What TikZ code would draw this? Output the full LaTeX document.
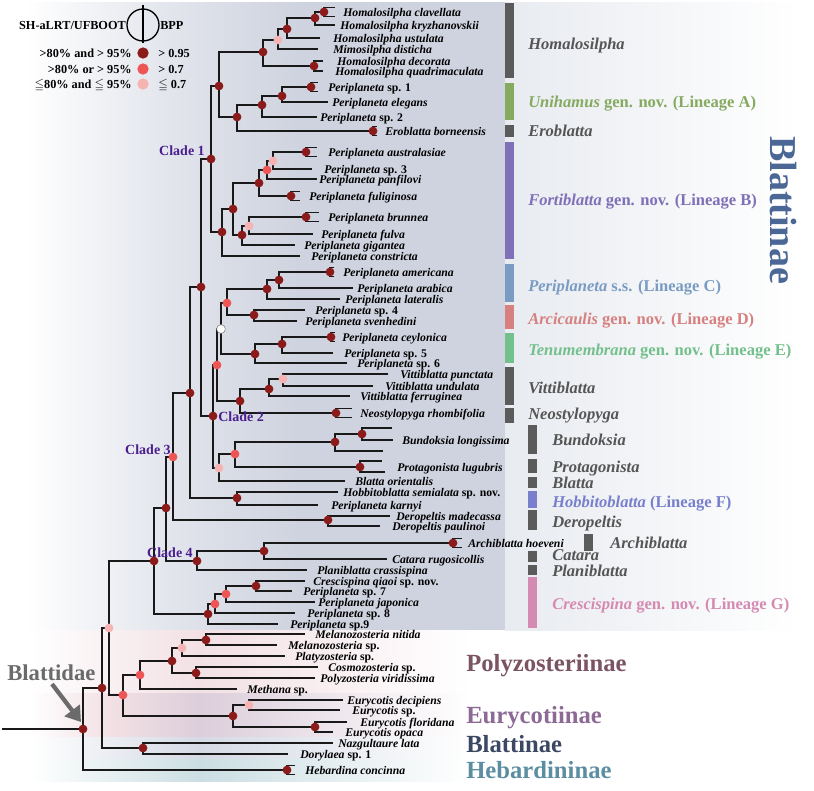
\documentclass[tikz,border=0pt]{standalone}
\usepackage{fontspec}
\usepackage{amssymb}
\setmainfont{Liberation Serif}
\usetikzlibrary{arrows.meta}
\pgfdeclarelayer{bg}
\pgfdeclarelayer{fg}
\pgfsetlayers{bg,main,fg}
\definecolor{cdk}{HTML}{8B1A1A}
\definecolor{crd}{HTML}{EE5555}
\definecolor{cpk}{HTML}{F6B3B3}
\definecolor{cbar}{HTML}{5B5B5B}
\definecolor{cgrp}{HTML}{555555}
\definecolor{cA}{HTML}{85AA60}
\definecolor{cB}{HTML}{8070B8}
\definecolor{cC}{HTML}{7A9CC3}
\definecolor{cD}{HTML}{D68080}
\definecolor{cE}{HTML}{74C08C}
\definecolor{cF}{HTML}{7880CC}
\definecolor{cG}{HTML}{D58AB2}
\definecolor{cclade}{HTML}{4B1F8F}
\definecolor{cbig}{HTML}{4A6796}
\definecolor{cpoly}{HTML}{7B5463}
\definecolor{ceury}{HTML}{8D6A96}
\definecolor{cblat}{HTML}{3B4763}
\definecolor{cheb}{HTML}{5B8EA0}
\definecolor{cbld}{HTML}{6B6B6B}
\definecolor{bgmain}{HTML}{CFD3DF}
\definecolor{bgmid}{HTML}{E2E5EC}
\definecolor{bgright}{HTML}{E8EBF0}
\definecolor{bgpink}{HTML}{F2E0E4}
\definecolor{bgeury}{HTML}{DCCEDA}
\definecolor{bgblat}{HTML}{D4D9E4}
\definecolor{bgheb}{HTML}{CBDEE3}
\tikzset{
  br/.style={line width=1.4pt, draw=black!90},
  dotbase/.style={circle, inner sep=0pt, minimum size=6.6pt},
  dotdk/.style={dotbase, fill=cdk},
  dotrd/.style={dotbase, fill=crd},
  dotpk/.style={dotbase, fill=cpk},
  dotwt/.style={dotbase, fill=white, draw=gray, line width=0.4pt},
  lab/.style={anchor=base west, inner sep=0pt, font=\fontsize{8.8}{10}\selectfont\bfseries\itshape},
  grp/.style={anchor=base west, inner sep=0pt, font=\fontsize{12.4}{14}\selectfont\bfseries},
  clade/.style={inner sep=0pt, text=cclade, font=\fontsize{10.5}{12}\selectfont\bfseries},
  leg/.style={inner sep=0pt, font=\fontsize{9.2}{11}\selectfont\bfseries},
  legdot/.style={circle, inner sep=0pt, minimum size=8.5pt},
  sub/.style={anchor=base west, inner sep=0pt, font=\fontsize{18.5}{20}\selectfont\bfseries},
}
\newcommand\inode[5][dotdk]{%
  \coordinate (#2) at (#4,#5);
  \draw[br] (#3) |- (#2);
  \begin{pgfonlayer}{fg}\node[#1] (#2d) at (#2) {};\end{pgfonlayer}}
\newcommand\tleaf[6]{%
  \coordinate (#1) at (#3,#4);
  \draw[br] (#2) |- (#1);
  \node[lab] (#1l) at (#5,#4+4) {#6};}
\newcommand\ntip[4]{%
  \coordinate (#1) at (#3,#4);
  \draw[br] (#2) |- (#1);}
\newcommand\bleaf[8][dotdk]{%
  \coordinate (#2) at (#4,#5);
  \draw[br] (#3) |- (#2);
  \coordinate (#2a) at (#6,#5-4.5);
  \coordinate (#2b) at (#6,#5+4.5);
  \draw[br] (#2) |- (#2a);
  \draw[br] (#2) |- (#2b);
  \begin{pgfonlayer}{fg}\node[#1] (#2d) at (#2) {};\end{pgfonlayer}
  \node[lab] (#2l) at (#7,#5+4) {#8};}
\begin{document}
\begin{tikzpicture}[x=0.75pt,y=-0.75pt]
\useasboundingbox (0,0) rectangle (814,790);
\begin{pgfonlayer}{bg}
\fill[white] (0,0) rectangle (814,790);
\shade[left color=white, right color=bgmid] (25,2) rectangle (170,630);
\shade[left color=bgmid, right color=bgmain] (169.5,2) rectangle (300,630);
\fill[bgmain] (299.5,2) rectangle (505,630);
\shade[left color=bgright, right color=white] (505,2) rectangle (800,630);
\shade[left color=white, right color=bgpink] (30,630) rectangle (200,693);
\shade[left color=bgpink, right color=white] (199.5,630) rectangle (470,693);
\shade[left color=white, right color=bgpink] (30,693) rectangle (110,737);
\shade[left color=bgpink, right color=bgeury] (109.5,693) rectangle (200,737);
\shade[left color=bgeury, right color=white] (199.5,693) rectangle (470,737);
\shade[left color=white, right color=bgblat] (30,737) rectangle (200,759);
\shade[left color=bgblat, right color=white] (199.5,737) rectangle (470,759);
\shade[left color=white, right color=bgheb] (30,759) rectangle (200,781);
\shade[left color=bgheb, right color=white] (199.5,759) rectangle (470,781);
\end{pgfonlayer}

% ---------- legend ----------
\node[leg, anchor=base east] (lg0) at (126,29) {SH-aLRT/UFBOOT};
\node[circle, draw, line width=1pt, minimum size=24pt, inner sep=0pt] (lgc) at (143,25) {};
\coordinate (lgt) at (143,5);
\coordinate (lgb) at (143,43);
\draw[line width=1pt] (lgt) -- (lgb);
\node[leg, anchor=base west] (lg1) at (160,29) {BPP};
\node[leg, anchor=base east] (lg2) at (132,57) {>80\% and > 95\%};
\node[leg, anchor=base east] (lg3) at (132,73) {>80\% or > 95\%};
\node[leg, anchor=base east] (lg4) at (132,88) {$\leqq$80\% and $\leqq$ 95\%};
\node[legdot, fill=cdk] (ld1) at (143,53) {};
\node[legdot, fill=crd] (ld2) at (143,69) {};
\node[legdot, fill=cpk] (ld3) at (143,84) {};
\node[leg, anchor=base west] (lr1) at (158,57) {> 0.95};
\node[leg, anchor=base west] (lr2) at (158,73) {> 0.7};
\node[leg, anchor=base west] (lr3) at (158,88) {$\leqq$ 0.7};

% ---------- tree ----------
\coordinate (r00) at (2,729);
\inode{r0}{r00}{83}{729}
\inode{B}{r0}{102}{688}
\bleaf{Heb}{r0}{287}{770}{295}{305}{Hebardina concinna}
\inode[dotpk]{A}{B}{109}{628}
\inode{Naz}{B}{143}{748}
\tleaf{Nazl}{Naz}{333}{743}{338}{Nazgultaure lata}
\tleaf{Dory}{Naz}{288}{754}{300}{Dorylaea \upshape sp. 1}
\inode{C}{A}{154}{561}
\inode[dotrd]{P1}{A}{123}{695}
\inode[dotrd]{P2}{P1}{140}{675}
\inode{P3}{P2}{172}{661}
\inode[dotpk]{P4}{P3}{182}{648}
\inode{P5}{P4}{206}{640}
\tleaf{Mnit}{P5}{305}{634}{315}{Melanozosteria nitida}
\tleaf{Msp}{P5}{277}{645}{288}{Melanozosteria \upshape sp.}
\tleaf{Plat}{P4}{285}{656}{295}{Platyzosteria \upshape sp.}
\inode{P6}{P3}{196}{673}
\tleaf{Cosm}{P6}{318}{667}{328}{Cosmozosteria \upshape sp.}
\tleaf{Poly}{P6}{315}{678}{320}{Polyzosteria viridissima}
\tleaf{Meth}{P2}{237}{689}{247}{Methana \upshape sp.}
\inode{P7}{P1}{233}{716}
\inode[dotpk]{P8}{P7}{249}{705}
\tleaf{Edec}{P8}{343}{700}{347}{Eurycotis decipiens}
\tleaf{Esp}{P8}{340}{710}{352}{Eurycotis \upshape sp.}
\inode{P9}{P7}{315}{727}
\tleaf{Eflo}{P9}{347}{722}{360}{Eurycotis floridana}
\tleaf{Eopa}{P9}{333}{732}{345}{Eurycotis opaca}

\inode{Cr}{C}{208}{614}
\inode[dotrd]{Cr1}{Cr}{215}{604}
\tleaf{Psp9}{Cr}{278}{624}{290}{Periplaneta \upshape sp.9}
\inode[dotrd]{Cr2}{Cr1}{226}{594}
\tleaf{Psp8}{Cr1}{295}{613}{307}{Periplaneta \upshape sp. 8}
\inode{Cr3}{Cr2}{256}{586}
\tleaf{Pjap}{Cr2}{315}{602}{318}{Periplaneta japonica}
\tleaf{Cqia}{Cr3}{305}{581}{313}{Crescispina qiaoi \upshape sp. nov.}
\tleaf{Psp7}{Cr3}{292}{591}{303}{Periplaneta \upshape sp. 7}

\inode{D}{C}{166}{508}
\inode[dotrd]{Cl3}{D}{173}{457}
\inode{Cl4}{D}{197}{561}
\inode{Ar}{Cl4}{264}{551}
\bleaf{Arch}{Ar}{453}{543}{462}{468}{Archiblatta hoeveni}
\tleaf{Cata}{Ar}{387}{559}{392}{Catara rugosicollis}
\tleaf{Plan}{Cl4}{307}{570}{317}{Planiblatta crassispina}
\inode{Der}{Cl3}{328}{520}
\tleaf{Dmad}{Der}{390}{516}{396}{Deropeltis madecassa}
\tleaf{Dpau}{Der}{380}{526}{392}{Deropeltis paulinoi}
\inode{E}{Cl3}{190}{393}
\inode{Hob}{E}{237}{498}
\tleaf{Hsem}{Hob}{338}{492}{343}{Hobbitoblatta semialata \upshape sp. nov.}
\tleaf{Pkar}{Hob}{318}{505}{331}{Periplaneta karnyi}
\inode{X}{E}{201}{287}
\inode{Cl2}{X}{213}{416}
\inode[dotpk]{Q2}{Cl2}{219}{468}
\inode[dotrd]{Q3}{Q2}{235}{454}
\tleaf{Bori}{Q2}{345}{481}{355}{Blatta orientalis}
\inode{Bun}{Q3}{335}{442}
\inode{Bun2}{Bun}{362}{434}
\ntip{Bu1}{Bun2}{392}{428}
\tleaf{Blon}{Bun2}{393}{440}{402}{Bundoksia longissima}
\ntip{Bu3}{Bun}{383}{451}
\inode{Pro}{Q3}{360}{467}
\ntip{Pro1}{Pro}{382}{461}
\ntip{Pro2}{Pro}{385}{472}
\node[lab] (Prol) at (397,467+4) {Protagonista lugubris};
\inode[dotrd]{Q1}{Cl2}{217}{365}
\inode[dotwt]{W}{Q1}{221}{329}
\inode{VN}{Q1}{240}{401}
\inode{Vit}{VN}{269}{389}
\inode[dotpk]{Vit2}{Vit}{283}{379}
\tleaf{Vpun}{Vit2}{388}{374}{400}{Vittiblatta punctata}
\tleaf{Vund}{Vit2}{373}{386}{385}{Vittiblatta undulata}
\tleaf{Vfer}{Vit}{350}{396}{360}{Vittiblatta ferruginea}
\bleaf{Neo}{VN}{336}{413}{352}{360}{Neostylopyga rhombifolia}
\inode[dotrd]{R1}{W}{227}{303}
\inode{Te}{W}{255}{354}
\inode{C1}{R1}{267}{289}
\inode{C2}{C1}{279}{280}
\bleaf{Pame}{C2}{330}{272}{334}{343}{Periplaneta americana}
\tleaf{Parab}{C2}{353}{288}{357}{Periplaneta arabica}
\tleaf{Plat2}{C1}{340}{299}{345}{Periplaneta lateralis}
\inode{Ar2}{R1}{254}{315}
\tleaf{Psp4}{Ar2}{305}{310}{315}{Periplaneta \upshape sp. 4}
\tleaf{Psve}{Ar2}{297}{321}{305}{Periplaneta svenhedini}
\inode{Te2}{Te}{282}{344}
\bleaf{Pcey}{Te2}{331}{337}{335}{342}{Periplaneta ceylonica}
\tleaf{Psp5}{Te2}{333}{353}{344}{Periplaneta \upshape sp. 5}
\tleaf{Psp6}{Te}{347}{363}{357}{Periplaneta \upshape sp. 6}

\inode{Cl1}{X}{211}{159}
\inode{H0}{Cl1}{219}{86}
\inode{H1}{H0}{263}{52}
\inode[dotpk]{H2}{H1}{278}{40}
\inode{H3}{H2}{287}{29}
\inode{H4}{H3}{315}{18}
\bleaf{Hcla}{H4}{324}{12}{335}{343}{Homalosilpha clavellata}
\tleaf{Hkry}{H4}{335}{25}{340}{Homalosilpha kryzhanovskii}
\tleaf{Hust}{H3}{320}{38}{333}{Homalosilpha ustulata}
\tleaf{Mdis}{H2}{318}{49}{333}{Mimosilpha disticha}
\inode{Hd}{H1}{314}{66}
\tleaf{Hdec}{Hd}{323}{61}{337}{Homalosilpha decorata}
\tleaf{Hqua}{Hd}{323}{71}{335}{Homalosilpha quadrimaculata}
\inode{L0}{H0}{237}{117}
\inode{L1}{L0}{262}{105}
\bleaf{Ero}{L0}{373}{131}{377}{385}{Eroblatta borneensis}
\inode{L2}{L1}{282}{96}
\tleaf{Psp2}{L1}{317}{117}{320}{Periplaneta \upshape sp. 2}
\bleaf{Psp1}{L2}{311}{87}{318}{328}{Periplaneta \upshape sp. 1}
\tleaf{Pele}{L2}{328}{102}{332}{Periplaneta elegans}
\inode{F0}{Cl1}{222}{232}
\inode{F1}{F0}{233}{209}
\tleaf{Pcon}{F0}{300}{256}{311}{Periplaneta constricta}
\inode{F2}{F1}{259}{183}
\inode{F3}{F1}{242}{235}
\inode[dotrd]{F4}{F2}{267}{170}
\bleaf{Pfug}{F2}{291}{196}{300}{309}{Periplaneta fuliginosa}
\inode[dotpk]{F5}{F4}{273}{161}
\tleaf{Ppan}{F4}{317}{179}{319}{Periplaneta panfilovi}
\bleaf{Paus}{F5}{306}{152}{317}{328}{Periplaneta australasiae}
\tleaf{Psp3}{F5}{312}{169}{324}{Periplaneta \upshape sp. 3}
\inode[dotpk]{F6}{F3}{249}{226}
\tleaf{Pgig}{F3}{295}{245}{304}{Periplaneta gigantea}
\bleaf{Pbru}{F6}{306}{217}{319}{328}{Periplaneta brunnea}
\tleaf{Pfva}{F6}{313}{234}{321}{Periplaneta fulva}

% ---------- clade labels ----------
\node[clade, anchor=base east] (c1) at (205,155) {Clade 1};
\node[clade, anchor=base west] (c2) at (218,421) {Clade 2};
\node[clade, anchor=base east] (c3) at (171,454) {Clade 3};
\node[clade, anchor=base east] (c4) at (193,557) {Clade 4};

% ---------- bars ----------
\fill[cbar] (505,3) rectangle (514,78);
\fill[cA] (505,83) rectangle (514,120);
\fill[cbar] (505,125) rectangle (514,137);
\fill[cB] (505,142) rectangle (514,259);
\fill[cC] (505,264) rectangle (514,302);
\fill[cD] (505,305) rectangle (514,329);
\fill[cE] (505,333) rectangle (514,363);
\fill[cbar] (505,367) rectangle (514,405);
\fill[cbar] (505,408) rectangle (514,423);
\fill[cbar] (528,425) rectangle (537,454);
\fill[cbar] (528,459) rectangle (537,473);
\fill[cbar] (528,477) rectangle (537,488);
\fill[cF] (528,491) rectangle (537,508);
\fill[cbar] (528,510) rectangle (537,530);
\fill[cbar] (584,534) rectangle (593,551);
\fill[cbar] (528,551) rectangle (537,562);
\fill[cbar] (528,565) rectangle (537,575);
\fill[cG] (528,577) rectangle (537,628);

% ---------- group labels ----------
\node[grp, text=cgrp] (g1) at (528,49.5) {\itshape Homalosilpha};
\node[grp, text=cA] (g2) at (528,107.5) {\itshape Unihamus\upshape\ gen. nov. (Lineage A)};
\node[grp, text=cgrp] (g3) at (528,136.5) {\itshape Eroblatta};
\node[grp, text=cB] (g4) at (528,205.5) {\itshape Fortiblatta\upshape\ gen. nov. (Lineage B)};
\node[grp, text=cC] (g5) at (528,291.5) {\itshape Periplaneta\upshape\ s.s. (Lineage C)};
\node[grp, text=cD] (g6) at (528,324.5) {\itshape Arcicaulis\upshape\ gen. nov. (Lineage D)};
\node[grp, text=cE] (g7) at (528,355.5) {\itshape Tenumembrana\upshape\ gen. nov. (Lineage E)};
\node[grp, text=cgrp] (g8) at (528,393.5) {\itshape Vittiblatta};
\node[grp, text=cgrp] (g9) at (528,419.5) {\itshape Neostylopyga};
\node[grp, text=cgrp] (g10) at (552,445.5) {\itshape Bundoksia};
\node[grp, text=cgrp] (g11) at (552,472.5) {\itshape Protagonista};
\node[grp, text=cgrp] (g12) at (552,488.5) {\itshape Blatta};
\node[grp, text=cF] (g13) at (552,507.5) {\itshape Hobbitoblatta\upshape\ (Lineage F)};
\node[grp, text=cgrp] (g14) at (552,527.5) {\itshape Deropeltis};
\node[grp, text=cgrp] (g15) at (610,548.5) {\itshape Archiblatta};
\node[grp, text=cgrp] (g16) at (552,560.5) {\itshape Catara};
\node[grp, text=cgrp] (g17) at (552,576) {\itshape Planiblatta};
\node[grp, text=cG] (g18) at (552,609.5) {\itshape Crescispina\upshape\ gen. nov. (Lineage G)};

\node[rotate=-90, inner sep=0pt, text=cbig, font=\fontsize{28.5}{30}\selectfont\bfseries] (big) at (783,210) {Blattinae};

% ---------- subfamilies ----------
\node[sub, text=cpoly] (s1) at (466,671) {Polyzosteriinae};
\node[sub, text=ceury] (s2) at (466,723) {Eurycotiinae};
\node[sub, text=cblat] (s3) at (466,752) {Blattinae};
\node[sub, text=cheb] (s4) at (466,778) {Hebardininae};

\node[anchor=base west, inner sep=0pt, text=cbld, font=\fontsize{17}{20}\selectfont\bfseries] (bld) at (7,680) {Blattidae};
\coordinate (ba1) at (52,684);
\coordinate (ba2) at (81,722);
\draw[line width=3.2pt, draw=cbld, -{Triangle[length=11pt,width=14pt]}] (ba1) -- (ba2);
\end{tikzpicture}
\end{document}
